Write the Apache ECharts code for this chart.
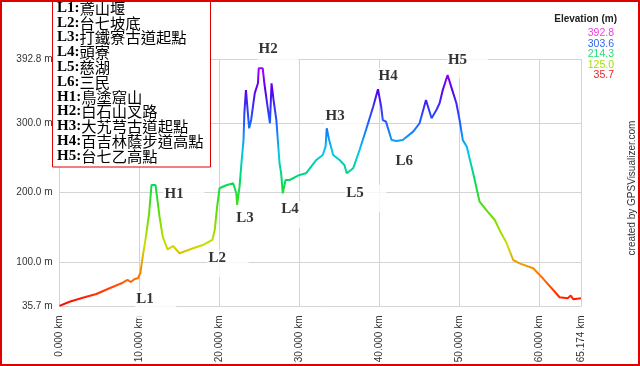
<!DOCTYPE html>
<html><head><meta charset="utf-8">
<script src="https://cdn.jsdelivr.net/npm/echarts@6/dist/echarts.min.js"></script>
<style>html,body{margin:0;padding:0;background:#fff;}#c{width:640px;height:366px;}</style>
</head><body><div id="c"></div>
<script>
const distKm = [0,1.25,2.9,4.6,6.25,7.9,8.5,8.9,9.4,9.8,10.1,10.4,10.8,11.2,11.5,12.0,12.5,12.9,13.5,14.2,15.0,16.7,17.9,19.1,19.4,19.7,20.0,20.75,21.7,22.1,22.2,22.5,22.7,23.0,23.1,23.3,23.5,23.7,23.95,24.4,24.8,24.9,25.4,25.6,26.0,26.3,26.5,26.75,27.1,27.5,27.7,27.9,28.25,28.75,30.0,30.8,32.1,32.9,33.25,33.4,33.7,34.2,35.0,35.6,35.9,36.7,37.5,38.3,39.2,39.8,40.2,40.4,40.8,41.5,42.1,42.9,44.2,45.0,45.8,46.5,47.1,47.5,47.9,48.5,48.95,49.6,50.0,50.4,50.9,51.7,52.5,53.5,54.4,55.2,55.8,56.7,57.5,59.2,60.4,61.7,62.5,63.5,63.9,64.2,65.174];
const elevM = [36.5,42.6,48.4,53.7,62,70,74,71,75.4,76.4,83.6,107.6,136.4,170.2,211,211,165.3,136.4,118.2,123,112.5,119.7,124.4,131.7,146,179.7,206.3,210.3,213.5,199,182.2,208.6,237.4,276,314.5,348.1,348.1,292.8,304.8,343.3,357.8,379.4,379.4,357.8,324,300,357.8,333.7,304.8,242.3,227.9,199,218.2,218.2,225.5,227.9,247.1,254.3,266.3,292.9,275.9,254.3,247.1,239.9,227.9,235.1,261.5,290.4,324,349.1,324,304.8,302.4,276,274.5,276,288,300.1,333.7,307.3,319.2,328.9,348.1,369.7,352.9,328.9,304.8,276,266.3,227.9,186.9,172.5,160.5,141.3,129.2,102.8,98,90.8,76.4,59.5,49,47.5,51.6,46.1,47.5];

const elevMin = 35.7, elevMax = 392.8, distMax = 65.174;
const yTickValues = [35.7, 100, 200, 300, 392.8];
const xTickValues = [0, 10, 20, 30, 40, 50, 60, 65.174];

const markNames = ['L1','H1','L2','L3','H2','L4','H3','L5','H4','L6','H5'];
const markKm    = [9.59,13.12,18.62,22.09,24.87,27.71,33.25,35.84,39.87,42.0,48.54];
const markElev  = [55.2,206.7,114.3,172.1,416,185,319.3,208.6,377,254.3,401.2];

const legendCodes = ['L1','L2','L3','L4','L5','L6','H1','H2','H3','H4','H5'];
const legendNames = ['鳶山堰','台七坡底','打鐵寮古道起點','頭寮','慈湖','三民','鳥塗窟山','白石山叉路','大艽芎古道起點','百吉林蔭步道高點','台七乙高點'];

const scaleLabels = ['392.8','303.6','214.3','125.0','35.7'];
const scaleColors = ['#f040e0','#3366ee','#22dd77','#aadd00','#ee2222'];

const chart = echarts.init(document.getElementById('c'));
const grid = {left:59.5, right:59, top:59, bottom:59.5};
const legendText = legendCodes.map((c,i)=>'{a|'+c+':}{b|'+legendNames[i]+'}').join('\n');
const graphics = [
  {type:'rect', shape:{x:1,y:1,width:638,height:364}, style:{fill:'none',stroke:'#e00000',lineWidth:2}, z:100},
  {type:'rect', shape:{x:52.5,y:1,width:158,height:166}, style:{fill:'#fff',stroke:'#e00000',lineWidth:1}, z:50},
  {type:'text', x:57, y:0.5, style:{text:legendText, lineHeight:14.8, fill:'#000',
    rich:{a:{fontFamily:'Liberation Serif', fontWeight:'bold', fontSize:15, lineHeight:14.8},
          b:{fontFamily:'Noto Sans CJK TC', fontSize:15.3, lineHeight:14.8}}}, z:51},
  {type:'text', x:617, y:14.5, style:{text:'Elevation (m)', font:'bold 10px "Liberation Sans"', fill:'#222', align:'right'}, z:51},
  {type:'text', x:632, y:188, rotation:Math.PI/2, style:{text:'created by GPSVisualizer.com', font:'10px "Liberation Sans"', fill:'#333', align:'center', verticalAlign:'middle'}, z:51}
];
scaleLabels.forEach((t,i)=>{
  graphics.push({type:'text', x:614, y:28+i*10.4, style:{text:t, font:'10.5px "Liberation Sans"', fill:scaleColors[i], align:'right'}, z:51});
});

const gridLineData = yTickValues.map(v=>({yAxis:v})).concat(xTickValues.map(v=>({xAxis:v})));

chart.setOption({
  animation:false,
  backgroundColor:'#fff',
  grid:grid,
  xAxis:{type:'value', min:0, max:distMax,
    axisLine:{show:false},
    axisTick:{show:false},
    splitLine:{show:false},
    axisLabel:{rotate:90, margin:9, color:'#333', fontFamily:'Liberation Sans', fontSize:10,
      customValues:xTickValues, hideOverlap:false,
      formatter:v=>v.toFixed(3)+' km'}},
  yAxis:{type:'value', min:elevMin, max:elevMax,
    axisLine:{show:false},
    axisTick:{show:false},
    splitLine:{show:false},
    axisLabel:{margin:7, color:'#333', fontFamily:'Liberation Sans', fontSize:10,
      customValues:yTickValues, hideOverlap:false,
      formatter:v=>v.toFixed(1)+' m'}},
  visualMap:{show:false, type:'continuous', dimension:1, seriesIndex:0, min:elevMin, max:elevMax,
    inRange:{color:['#ff0000','#ff7700','#ccdd00','#66dd00','#00dd55','#00c8ee','#2255ff','#5500ee','#cc00ff']}},
  series:[
    {type:'line', z:5, showSymbol:false, symbol:'none', lineStyle:{width:2}, clip:false,
      data:distKm.map((d,i)=>[d, elevM[i]])},
    {type:'scatter', z:4, clip:false, symbolSize:0, silent:true,
      data:markNames.map((n,i)=>({name:n, value:[markKm[i], markElev[i]]})),
      label:{show:true, position:[0,0], offset:[-1,-2], formatter:p=>p.name, align:'left', verticalAlign:'top',
        fontFamily:'Liberation Serif', fontWeight:'bold', fontSize:15, lineHeight:15, color:'#000',
        backgroundColor:'#fff', width:38, height:26, padding:[1,2,0,1]}},
    {type:'line', z:1, showSymbol:false, symbol:'none', silent:true, lineStyle:{opacity:0},
      data:[[0, elevMin]],
      markLine:{silent:true, z:1, symbol:'none', animation:false, label:{show:false},
        lineStyle:{color:'#d4d4d4', type:'solid', width:1},
        emphasis:{disabled:true},
        data:gridLineData}}
  ],
  graphic:graphics
});
</script></body></html>
